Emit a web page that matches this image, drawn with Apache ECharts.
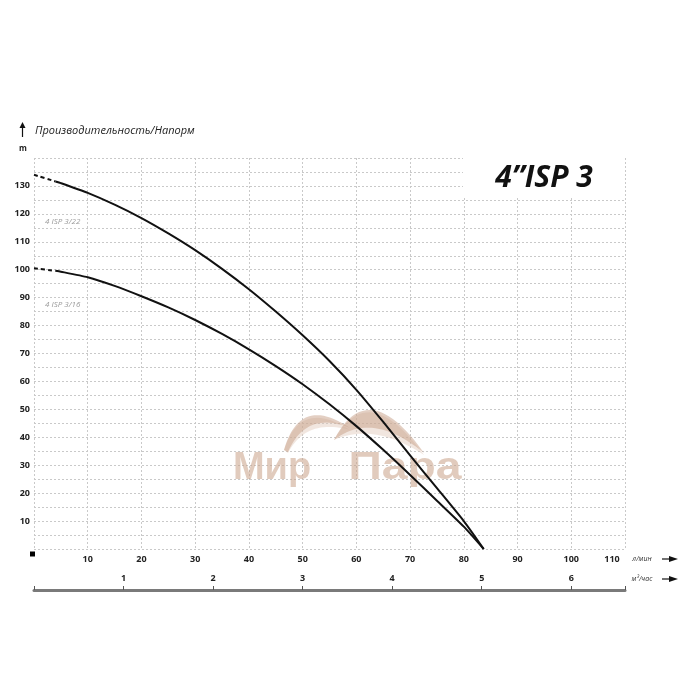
<!DOCTYPE html>
<html><head><meta charset="utf-8">
<script src="https://cdn.jsdelivr.net/npm/echarts@6/dist/echarts.min.js"></script>
<style>html,body{margin:0;padding:0;background:#fff}#c{width:700px;height:700px}</style>
</head><body><div id="c"></div>
<script>
// ---- data ----
const flowLpm  = [0, 4, 5, 10, 15, 20, 25, 30, 35, 40, 45, 50, 55, 60, 65, 70, 75, 80, 83.7];
const head322  = [134, 131.6, 131, 127.5, 123.3, 118.5, 113, 107, 100.3, 93, 85, 76.5, 67.3, 57, 45.5, 33.5, 21.8, 10, 0];
const head316  = [100.5, 99.6, 99.3, 97.3, 94.2, 90.5, 86.5, 82, 77, 71.5, 65.5, 59, 51.8, 44, 35.5, 26.5, 17.3, 8, 0];
const seriesNames = ['4 ISP 3/22', '4 ISP 3/16'];
const dashedUntil = 4;            // flow (l/min) up to which curve is dashed
const lpmTicks = [10, 20, 30, 40, 50, 60, 70, 80, 90, 100, 110];
const m3hTicks = [1, 2, 3, 4, 5, 6];
const headTicks = [10, 20, 30, 40, 50, 60, 70, 80, 90, 100, 110, 120, 130];
const lpmPerM3h = 1000 / 60;

function pairs(ys, part) {
  const out = [];
  flowLpm.forEach((q, i) => {
    if (part === 'dash' ? q <= dashedUntil : q >= dashedUntil) out.push([q, ys[i]]);
  });
  return out;
}
// crescent outline from two quadratic curves (decoration only)
function crescent(p0, c1, p1, c2, p2) {
  const pts = [];
  const n = 24;
  for (let i = 0; i <= n; i++) {
    const t = i / n, u = 1 - t;
    pts.push([u*u*p0[0] + 2*u*t*c1[0] + t*t*p1[0], u*u*p0[1] + 2*u*t*c1[1] + t*t*p1[1]]);
  }
  for (let i = 0; i <= n; i++) {
    const t = i / n, u = 1 - t;
    pts.push([u*u*p1[0] + 2*u*t*c2[0] + t*t*p2[0], u*u*p1[1] + 2*u*t*c2[1] + t*t*p2[1]]);
  }
  return pts;
}

const chart = echarts.init(document.getElementById('c'), null, {renderer: 'canvas'});
const gridLine = {show: true, lineStyle: {color: '#c9c9c9', type: [2, 2], width: 1}};
const lineBase = {type: 'line', smooth: 0.2, showSymbol: false, silent: true, z: 5};
const wmColor = 'rgba(200,160,135,0.5)';
const wmLight = 'rgba(225,200,185,0.45)';

const option = {
  backgroundColor: '#fff',
  animation: false,
  grid: {left: 34, right: 75, top: 158, bottom: 151},
  xAxis: [{
    type: 'value', min: 0, max: 110, interval: 10,
    axisLine: {show: false}, axisTick: {show: false},
    splitLine: gridLine,
    axisLabel: {
      margin: 6, color: '#222', fontSize: 9, fontWeight: 'bold', fontFamily: 'Open Sans',
      formatter: v => (lpmTicks.indexOf(v) < 0 ? '' : (v === 110 ? '{r|' + v + '}' : String(v))),
      rich: {r: {fontSize: 9, fontWeight: 'bold', color: '#222', fontFamily: 'Open Sans', padding: [0, 26, 0, 0]}}
    }
  }, {
    type: 'value', position: 'bottom', offset: 41,
    min: 0, max: 110 / lpmPerM3h, interval: 1,
    axisLine: {show: true, lineStyle: {color: '#7a7a7a', width: 3}},
    axisTick: {show: true, inside: true, length: 4, lineStyle: {color: '#555'}},
    splitLine: {show: false},
    axisLabel: {
      inside: true, margin: 7, color: '#222', fontSize: 9, fontWeight: 'bold', fontFamily: 'Open Sans',
      formatter: v => (m3hTicks.indexOf(v) < 0 ? '' : String(v))
    }
  }],
  yAxis: {
    type: 'value', min: 0, max: 140, interval: 5,
    axisLine: {show: false}, axisTick: {show: false},
    splitLine: gridLine,
    axisLabel: {
      margin: 4, color: '#222', fontSize: 9, fontWeight: 'bold', fontFamily: 'Open Sans',
      formatter: v => (headTicks.indexOf(v) < 0 ? '' : String(v))
    }
  },
  series: [
    Object.assign({}, lineBase, {name: seriesNames[0], data: pairs(head322, 'dash'),
      lineStyle: {color: '#111', width: 2, type: [4, 3]}}),
    Object.assign({}, lineBase, {name: seriesNames[0], data: pairs(head322, 'solid'),
      lineStyle: {color: '#111', width: 2}}),
    Object.assign({}, lineBase, {name: seriesNames[1], data: pairs(head316, 'dash'),
      lineStyle: {color: '#111', width: 2, type: [4, 3]}}),
    Object.assign({}, lineBase, {name: seriesNames[1], data: pairs(head316, 'solid'),
      lineStyle: {color: '#111', width: 2}})
  ],
  graphic: [
    // watermark
    {type: 'polygon', z: 1, shape: {points: crescent([284,450],[300,398],[350,430],[306,418],[288,453])},
      style: {fill: wmLight}},
    {type: 'polygon', z: 1, shape: {points: crescent([284,450],[300,394],[350,428],[306,410],[288,452])},
      style: {fill: wmColor}},
    {type: 'polygon', z: 1, shape: {points: crescent([334,440],[368,378],[424,455],[374,422],[334,440])},
      style: {fill: wmLight}},
    {type: 'polygon', z: 1, shape: {points: crescent([334,440],[368,374],[424,453],[372,410],[334,440])},
      style: {fill: wmColor}},
    {type: 'text', z: 1, x: 272, y: 469, style: {text: 'Мир', fill: 'rgba(200,160,135,0.55)',
      font: 'bold 38px "Liberation Sans"', align: 'center', verticalAlign: 'middle'}},
    {type: 'text', z: 1, x: 405, y: 469, scaleX: 1.22, style: {text: 'Пара', fill: 'rgba(200,160,135,0.55)',
      font: 'bold 38px "Liberation Sans"', align: 'center', verticalAlign: 'middle'}},
    // title box
    {type: 'rect', z: 10, shape: {x: 463, y: 157, width: 162, height: 41}, style: {fill: '#fff'}},
    {type: 'text', z: 11, x: 544, y: 178, style: {text: '4”ISP 3', fill: '#111',
      font: 'italic bold 30px "Open Sans"', align: 'center', verticalAlign: 'middle'}},
    // y title
    {type: 'text', z: 11, x: 35, y: 131, style: {text: 'Производительность/Напорм', fill: '#222',
      font: 'italic 11px "Open Sans"', align: 'left', verticalAlign: 'middle'}},
    {type: 'line', z: 11, shape: {x1: 22.5, y1: 137, x2: 22.5, y2: 127}, style: {stroke: '#111', lineWidth: 1.2}},
    {type: 'polygon', z: 11, shape: {points: [[19.5, 128], [22.5, 122], [25.5, 128]]}, style: {fill: '#111'}},
    {type: 'text', z: 11, x: 23, y: 149, style: {text: 'm', fill: '#222',
      font: 'bold 8px "Open Sans"', align: 'center', verticalAlign: 'middle'}},
    // curve labels
    {type: 'text', z: 11, x: 45, y: 222, style: {text: seriesNames[0], fill: '#9a9a9a',
      font: 'italic 8px "Open Sans"', align: 'left', verticalAlign: 'middle'}},
    {type: 'text', z: 11, x: 45, y: 305, style: {text: seriesNames[1], fill: '#9a9a9a',
      font: 'italic 8px "Open Sans"', align: 'left', verticalAlign: 'middle'}},
    // origin square
    {type: 'rect', z: 11, shape: {x: 30, y: 551.5, width: 5, height: 5}, style: {fill: '#000'}},
    // unit labels and arrows
    {type: 'text', z: 11, x: 642, y: 559, style: {text: 'л/мин', fill: '#333',
      font: 'italic 7px "Open Sans"', align: 'center', verticalAlign: 'middle'}},
    {type: 'text', z: 11, x: 642, y: 579, style: {text: 'м³/час', fill: '#333',
      font: 'italic 7px "Open Sans"', align: 'center', verticalAlign: 'middle'}},
    {type: 'line', z: 11, shape: {x1: 662, y1: 559, x2: 671, y2: 559}, style: {stroke: '#111', lineWidth: 1.2}},
    {type: 'polygon', z: 11, shape: {points: [[669, 556], [678, 559], [669, 562]]}, style: {fill: '#111'}},
    {type: 'line', z: 11, shape: {x1: 662, y1: 579, x2: 671, y2: 579}, style: {stroke: '#111', lineWidth: 1.2}},
    {type: 'polygon', z: 11, shape: {points: [[669, 576], [678, 579], [669, 582]]}, style: {fill: '#111'}}
  ]
};
chart.setOption(option);
</script>
</body></html>
